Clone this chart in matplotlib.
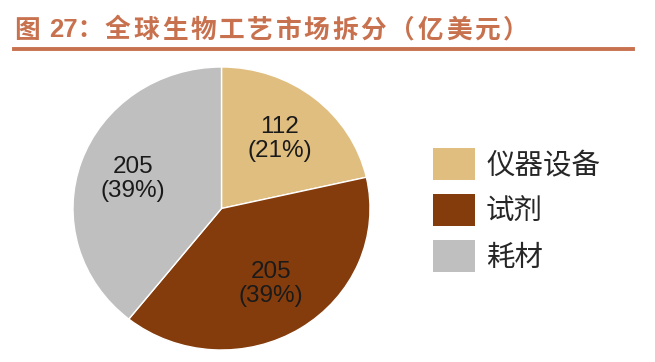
import matplotlib.pyplot as plt
from matplotlib.patches import Rectangle
from matplotlib.lines import Line2D

plt.rcParams['font.family'] = ['Liberation Sans', 'Noto Sans CJK SC', 'DejaVu Sans']

# data
categories = ['仪器设备', '试剂', '耗材']
values = [112, 205, 205]
colors = ['#E0BE80', '#843C0C', '#BFBFBF']
title_head = ['图', '27：']
title_body = '全球生物工艺市场拆分（亿美元）'

W, H = 655, 362
total = sum(values)
fig = plt.figure(figsize=(W / 100, H / 100), dpi=100)
tcol = '#C8714E'

# title, drawn with the wide letter spacing of the original
tkw = dict(fontsize=18.5, fontweight='bold', color=tcol, va='center', ha='left')
fig.text(14 / W, 1 - 30 / H, title_head[0], family=['Noto Sans CJK SC'], **tkw)
fig.text(49 / W, 1 - 30 / H, title_head[1], family=['Liberation Sans', 'Noto Sans CJK SC'], **tkw)
for i, ch in enumerate(title_body):
    fig.text((105 + i * 28.4) / W, 1 - 30 / H, ch, family=['Noto Sans CJK SC'], **tkw)
fig.add_artist(Line2D([14 / W, 633 / W], [1 - 48.5 / H, 1 - 48.5 / H], color=tcol, lw=2.8,
                      transform=fig.transFigure))

# pie (the original is slightly stretched horizontally)
ax = fig.add_axes([73 / W, 12 / H, 297 / W, 283 / H])
labels = [f'{v}\n({round(v / total * 100):.0f}%)' for v in values]
wedges, texts = ax.pie(values, colors=colors, startangle=90, counterclock=False,
                       labels=labels, labeldistance=0.63,
                       wedgeprops=dict(edgecolor='white', linewidth=1),
                       textprops=dict(fontsize=17.5, ha='center', va='center',
                                      color='#1a1a1a', linespacing=1.1))
ax.set_xlim(-1.0, 1.0)
ax.set_ylim(-1.0, 1.0)
ax.set_aspect('auto')

# legend
for i, (cat, c) in enumerate(zip(categories, colors)):
    y0 = 1 - (180 + 46 * i) / H
    fig.add_artist(Rectangle((433 / W, y0), 42 / W, 32 / H, facecolor=c,
                             edgecolor='none', transform=fig.transFigure))
    fig.text(486 / W, y0 + 14 / H, cat, fontsize=20.5, color='#262626',
             family=['Noto Sans CJK SC'], va='center', ha='left')

fig.savefig('out.png', dpi=100)
